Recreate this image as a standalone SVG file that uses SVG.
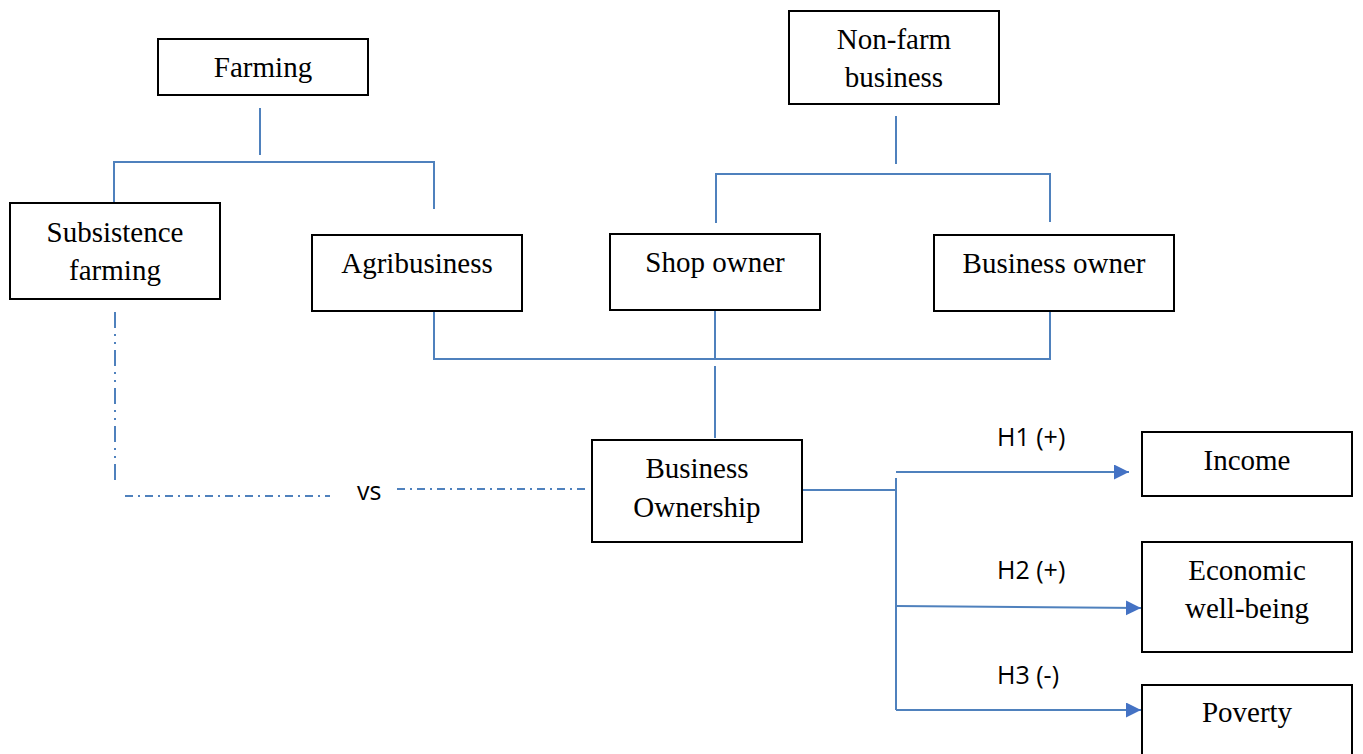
<svg xmlns="http://www.w3.org/2000/svg" width="1363" height="754" viewBox="0 0 1363 754">
<style>
.box{fill:#fff;stroke:#000;stroke-width:2}
.t{font-family:'Liberation Serif','Tinos','DejaVu Serif',serif;font-size:29px;fill:#000;text-anchor:middle}
.s{font-family:'Open Sans','Liberation Sans',sans-serif;font-size:25px;fill:#000}
.c{fill:none;stroke:#4F81BD;stroke-width:2}
.dd{fill:none;stroke:#4F81BD;stroke-width:2;stroke-dasharray:16 6 2 6 2 6}
.dh{fill:none;stroke:#4F81BD;stroke-width:2;stroke-dasharray:8 5 2 5}
</style>
<defs>
<marker id="arr" markerUnits="userSpaceOnUse" markerWidth="16" markerHeight="16" refX="15" refY="7.5" orient="auto">
<path d="M0,0 L15,7.5 L0,15 z" fill="#4472C4"/>
</marker>
</defs>
<rect width="1363" height="754" fill="#fff"/>
<g id="connectors">
<path class="c" d="M260,108 V155"/>
<path class="c" d="M114,209 V162 H434 V209"/>
<path class="c" d="M896,116 V164"/>
<path class="c" d="M716,223 V174 H1050 V222"/>
<path class="c" d="M434,311 V359 H1050 V311"/>
<path class="c" d="M715,311 V359"/>
<path class="c" d="M715,366 V438"/>
<path class="dd" d="M115,312 V481"/>
<path class="dh" d="M125,496 H330"/>
<path class="dh" d="M397,489 H590"/>
<path class="c" d="M802,490 H896"/>
<path class="c" d="M896,478 V710"/>
<path class="c" d="M896,472 H1129" marker-end="url(#arr)"/>
<path class="c" d="M896,606 L1141,608" marker-end="url(#arr)"/>
<path class="c" d="M896,710 H1141" marker-end="url(#arr)"/>
<text class="s" x="357" y="500">vs</text>
<text class="s" x="997" y="446">H1 (+)</text>
<text class="s" x="997" y="579">H2 (+)</text>
<text class="s" x="997" y="684">H3 (-)</text>
</g>
<g id="farming"><rect class="box" x="158" y="39" width="210" height="56"/><text class="t" x="263" y="77">Farming</text></g>
<g id="subsistence"><rect class="box" x="10" y="203" width="210" height="96"/><text class="t" x="115" y="242">Subsistence</text><text class="t" x="115" y="280">farming</text></g>
<g id="agribusiness"><rect class="box" x="312" y="235" width="210" height="76"/><text class="t" x="417" y="273">Agribusiness</text></g>
<g id="nonfarm"><rect class="box" x="789" y="11" width="210" height="93"/><text class="t" x="894" y="49">Non-farm</text><text class="t" x="894" y="87">business</text></g>
<g id="shopowner"><rect class="box" x="610" y="234" width="210" height="76"/><text class="t" x="715" y="272">Shop owner</text></g>
<g id="businessowner"><rect class="box" x="934" y="235" width="240" height="76"/><text class="t" x="1054" y="273">Business owner</text></g>
<g id="ownership"><rect class="box" x="592" y="440" width="210" height="102"/><text class="t" x="697" y="478">Business</text><text class="t" x="697" y="517">Ownership</text></g>
<g id="income"><rect class="box" x="1142" y="432" width="210" height="64"/><text class="t" x="1247" y="470">Income</text></g>
<g id="economic"><rect class="box" x="1142" y="542" width="210" height="110"/><text class="t" x="1247" y="580">Economic</text><text class="t" x="1247" y="618">well-being</text></g>
<g id="poverty"><rect class="box" x="1142" y="685" width="210" height="80"/><text class="t" x="1247" y="722">Poverty</text></g>
</svg>
